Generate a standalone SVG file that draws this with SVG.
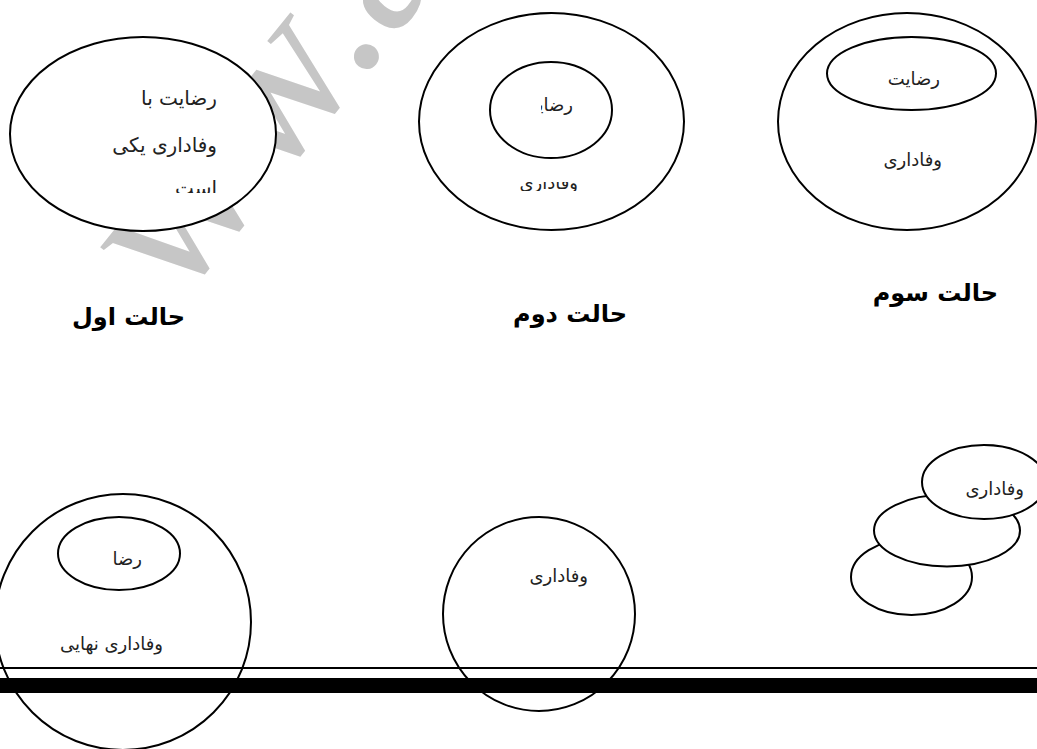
<svg xmlns="http://www.w3.org/2000/svg" width="1037" height="749" viewBox="0 0 1037 749">
<style>
.sh{fill:#fff;stroke:#000;stroke-width:2}
.t{font-family:"DejaVu Sans",sans-serif;font-size:18px;fill:#222;text-anchor:end}
.t1{font-size:20px}
.h{font-family:"DejaVu Sans",sans-serif;font-size:24px;font-weight:bold;fill:#000;text-anchor:end}
.wm{font-family:"Liberation Serif",serif;font-size:210px;fill:#c6c6c6}
</style>
<defs>
<clipPath id="c1"><rect x="0" y="0" width="300" height="193"/></clipPath>
<clipPath id="c2a"><rect x="541" y="80" width="100" height="50"/></clipPath>
<clipPath id="c2b"><rect x="500" y="182" width="100" height="9"/></clipPath>
</defs>
<rect width="1037" height="749" fill="#fff"/>
<text class="wm" transform="translate(175,308) rotate(-51)">ww.a</text>
<g id="case1">
<ellipse class="sh" cx="143" cy="134" rx="133" ry="97"/>
<g clip-path="url(#c1)">
<text class="t t1" x="217" y="105">رضایت با</text>
<text class="t t1" x="217" y="152">وفاداری یکی</text>
<text class="t t1" x="217" y="195">است</text>
</g>
</g>
<g id="case2">
<ellipse class="sh" cx="551.5" cy="121.5" rx="132.5" ry="108.5"/>
<ellipse class="sh" cx="551" cy="110" rx="61" ry="48"/>
<text class="t" x="573" y="111" clip-path="url(#c2a)">رضایت</text>
<text class="t" x="578" y="189" clip-path="url(#c2b)">وفاداری</text>
</g>
<g id="case3">
<ellipse class="sh" cx="907" cy="121.5" rx="129" ry="108.5"/>
<ellipse class="sh" cx="911.5" cy="73.5" rx="84.5" ry="36.5"/>
<text class="t" x="940" y="85">رضایت</text>
<text class="t" x="942" y="166">وفاداری</text>
</g>
<g id="titles">
<text class="h" x="185" y="325">حالت اول</text>
<text class="h" x="627" y="322">حالت دوم</text>
<text class="h" x="998" y="301">حالت سوم</text>
</g>
<g id="rules">
<rect x="0" y="667" width="1037" height="2" fill="#000"/>
<rect x="0" y="678" width="1037" height="15" fill="#000"/>
</g>
<g id="final">
<ellipse cx="123" cy="622" rx="128" ry="128" fill="none" stroke="#000" stroke-width="2"/>
<ellipse class="sh" cx="119" cy="553.5" rx="61" ry="36.5"/>
<text class="t" x="142" y="565">رضا</text>
<text class="t" x="163" y="650">وفاداری نهایی</text>
</g>
<g id="loyal">
<ellipse cx="539" cy="614" rx="96" ry="97" fill="none" stroke="#000" stroke-width="2"/>
<text class="t" x="588" y="582">وفاداری</text>
</g>
<g id="stack">
<ellipse class="sh" cx="911.5" cy="577" rx="60.5" ry="38"/>
<ellipse class="sh" cx="947" cy="530.5" rx="73" ry="36"/>
<ellipse class="sh" cx="984" cy="482" rx="62" ry="37"/>
<text class="t" x="1024" y="495">وفاداری</text>
</g>
</svg>
